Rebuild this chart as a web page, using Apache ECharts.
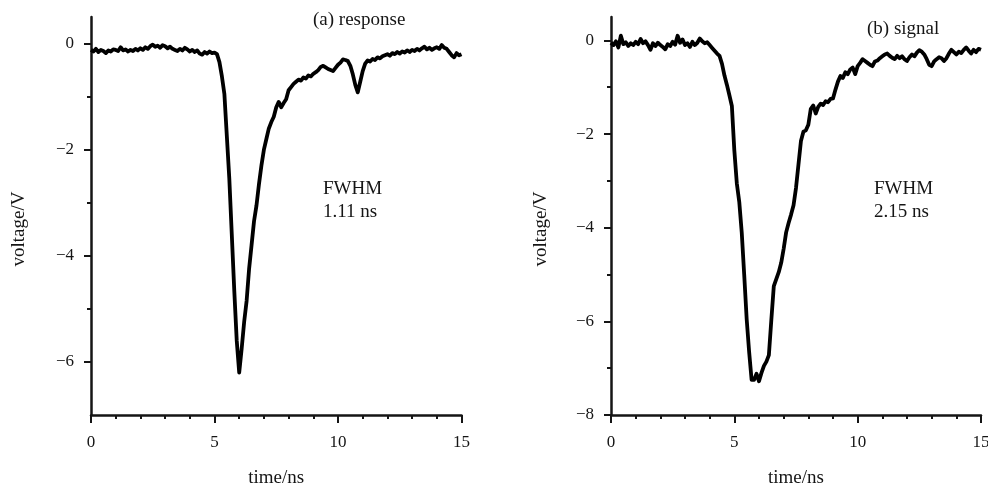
<!DOCTYPE html>
<html>
<head>
<meta charset="utf-8">
<script src="https://cdn.jsdelivr.net/npm/echarts@6/dist/echarts.min.js"></script>
<style>
html,body{margin:0;padding:0;background:#fff;}
#chart{width:988px;height:487px;}
</style>
</head>
<body>
<div id="chart"></div>
<script>
// sampling times (ns), shared by both traces
const time = [
 0.0,0.1,0.2,0.3,0.4,0.5,0.6,0.7,0.8,0.9,
 1.0,1.1,1.2,1.3,1.4,1.5,1.6,1.7,1.8,1.9,
 2.0,2.1,2.2,2.3,2.4,2.5,2.6,2.7,2.8,2.9,
 3.0,3.1,3.2,3.3,3.4,3.5,3.6,3.7,3.8,3.9,
 4.0,4.1,4.2,4.3,4.4,4.5,4.6,4.7,4.8,4.9,
 5.0,5.1,5.2,5.3,5.4,5.5,5.6,5.7,5.8,5.9,
 6.0,6.1,6.2,6.3,6.4,6.5,6.6,6.7,6.8,6.9,
 7.0,7.1,7.2,7.3,7.4,7.5,7.6,7.7,7.8,7.9,
 8.0,8.1,8.2,8.3,8.4,8.5,8.6,8.7,8.8,8.9,
 9.0,9.1,9.2,9.3,9.4,9.5,9.6,9.7,9.8,9.9,
 10.0,10.1,10.2,10.3,10.4,10.5,10.6,10.7,10.8,10.9,
 11.0,11.1,11.2,11.3,11.4,11.5,11.6,11.7,11.8,11.9,
 12.0,12.1,12.2,12.3,12.4,12.5,12.6,12.7,12.8,12.9,
 13.0,13.1,13.2,13.3,13.4,13.5,13.6,13.7,13.8,13.9,
 14.0,14.1,14.2,14.3,14.4,14.5,14.6,14.7,14.8,14.9,
 15.0
];

// (a) response voltage (V)
const responseV = [
 -0.12,-0.15,-0.10,-0.16,-0.12,-0.14,-0.18,-0.13,-0.15,-0.11,
 -0.12,-0.14,-0.07,-0.13,-0.11,-0.15,-0.12,-0.14,-0.10,-0.13,
 -0.09,-0.12,-0.07,-0.10,-0.05,-0.02,-0.06,-0.04,-0.08,-0.03,
 -0.05,-0.09,-0.06,-0.10,-0.12,-0.14,-0.10,-0.13,-0.08,-0.11,
 -0.15,-0.12,-0.16,-0.13,-0.19,-0.21,-0.16,-0.19,-0.15,-0.18,
 -0.17,-0.20,-0.35,-0.62,-0.95,-1.75,-2.55,-3.60,-4.65,-5.60,
 -6.20,-5.75,-5.25,-4.85,-4.25,-3.80,-3.35,-3.05,-2.65,-2.30,
 -2.00,-1.80,-1.60,-1.48,-1.38,-1.20,-1.10,-1.20,-1.12,-1.05,
 -0.88,-0.82,-0.76,-0.72,-0.68,-0.70,-0.64,-0.66,-0.60,-0.62,
 -0.57,-0.54,-0.50,-0.44,-0.42,-0.45,-0.48,-0.50,-0.52,-0.46,
 -0.40,-0.36,-0.30,-0.31,-0.33,-0.42,-0.58,-0.78,-0.92,-0.72,
 -0.52,-0.38,-0.32,-0.34,-0.29,-0.31,-0.26,-0.28,-0.24,-0.22,
 -0.20,-0.23,-0.18,-0.20,-0.16,-0.19,-0.15,-0.17,-0.13,-0.16,
 -0.12,-0.14,-0.10,-0.13,-0.09,-0.06,-0.11,-0.08,-0.12,-0.09,
 -0.07,-0.10,-0.03,-0.08,-0.10,-0.16,-0.22,-0.26,-0.18,-0.22,
 -0.20
];

// (b) signal voltage (V)
const signalV = [
 -0.05,-0.10,-0.02,-0.15,0.10,-0.08,-0.04,-0.12,-0.06,-0.10,
 -0.03,-0.08,0.03,-0.06,-0.02,-0.10,-0.20,-0.06,-0.12,-0.05,
 -0.10,-0.14,-0.19,-0.08,-0.12,-0.03,-0.09,0.10,-0.05,0.02,
 -0.10,-0.06,-0.14,-0.03,-0.10,-0.05,0.04,-0.02,-0.06,-0.04,
 -0.10,-0.16,-0.22,-0.28,-0.33,-0.50,-0.75,-0.95,-1.17,-1.40,
 -2.35,-3.05,-3.45,-4.10,-5.00,-5.95,-6.65,-7.25,-7.25,-7.12,
 -7.28,-7.10,-6.95,-6.86,-6.72,-5.97,-5.25,-5.10,-4.95,-4.75,
 -4.45,-4.10,-3.90,-3.72,-3.52,-3.15,-2.65,-2.15,-1.95,-1.92,
 -1.80,-1.46,-1.39,-1.56,-1.42,-1.35,-1.38,-1.30,-1.32,-1.25,
 -1.24,-1.05,-0.88,-0.76,-0.80,-0.68,-0.72,-0.62,-0.58,-0.72,
 -0.55,-0.48,-0.40,-0.44,-0.48,-0.52,-0.55,-0.45,-0.43,-0.38,
 -0.34,-0.30,-0.28,-0.33,-0.37,-0.40,-0.33,-0.38,-0.34,-0.40,
 -0.44,-0.36,-0.30,-0.34,-0.26,-0.21,-0.24,-0.30,-0.40,-0.52,
 -0.55,-0.45,-0.40,-0.36,-0.38,-0.44,-0.38,-0.28,-0.20,-0.25,
 -0.30,-0.24,-0.27,-0.20,-0.15,-0.22,-0.28,-0.20,-0.25,-0.18,
 -0.20
];

// tick labels
const xTicks = [0, 5, 10, 15];
const yTicksA = [0, -2, -4, -6];
const yMinorA = [-1, -3, -5];
const yTicksB = [0, -2, -4, -6, -8];
const yMinorB = [-1, -3, -5, -7];

const panelTitles = ['(a) response', '(b) signal'];
const fwhmText = ['FWHM\n1.11 ns', 'FWHM\n2.15 ns'];
const xName = 'time/ns';
const yName = 'voltage/V';

const FONT = '"Liberation Serif", "Times New Roman", serif';
const INK = '#151515';

function pairs(ts, vs) { return ts.map((t, i) => [t, vs[i]]); }

function xAxisFor(gi) {
  return {
    type: 'value', gridIndex: gi, min: 0, max: 15, interval: 5,
    name: xName, nameLocation: 'middle', nameGap: 54,
    nameTextStyle: { fontFamily: FONT, fontSize: 19, color: INK },
    axisLine: { onZero: false, lineStyle: { color: INK, width: 2.5 } },
    axisTick: { length: 8, customValues: xTicks, lineStyle: { color: INK, width: 2 } },
    minorTick: { show: true, splitNumber: 5, length: 4, lineStyle: { color: INK, width: 2 } },
    axisLabel: { customValues: xTicks, fontFamily: FONT, fontSize: 17, color: INK, margin: 19 },
    splitLine: { show: false }
  };
}

function yMain(gi, min, ticks) {
  return {
    type: 'value', gridIndex: gi, min: min, max: 0.5, position: 'left',
    axisLine: { show: true, onZero: false, lineStyle: { color: INK, width: 2.5 } },
    axisTick: { show: true, length: 7, customValues: ticks, lineStyle: { color: INK, width: 2 } },
    axisLabel: { show: true, customValues: ticks, fontFamily: FONT, fontSize: 17, color: INK, margin: 17,
      formatter: v => (v < 0 ? '\u2212' + Math.abs(v) : String(v)) },
    splitLine: { show: false }
  };
}

function yMinor(gi, min, ticks) {
  return {
    type: 'value', gridIndex: gi, min: min, max: 0.5, position: 'left',
    axisLine: { show: false, onZero: false },
    axisTick: { show: true, length: 4, customValues: ticks, lineStyle: { color: INK, width: 2 } },
    axisLabel: { show: false, customValues: ticks },
    splitLine: { show: false }
  };
}

const chart = echarts.init(document.getElementById('chart'), null, { renderer: 'canvas' });
chart.setOption({
  backgroundColor: '#ffffff',
  animation: false,
  grid: [
    { left: 91, top: 17, width: 370.5, height: 398, outerBoundsMode: 'none', containLabel: false },
    { left: 611, top: 17, width: 370, height: 398, outerBoundsMode: 'none', containLabel: false }
  ],
  xAxis: [xAxisFor(0), xAxisFor(1)],
  yAxis: [yMain(0, -7, yTicksA), yMinor(0, -7, yMinorA), yMain(1, -8, yTicksB), yMinor(1, -8, yMinorB)],
  series: [
    { type: 'line', xAxisIndex: 0, yAxisIndex: 0, data: pairs(time, responseV), showSymbol: false,
      lineStyle: { color: '#000', width: 3.8, join: 'round' } },
    { type: 'line', xAxisIndex: 1, yAxisIndex: 2, data: pairs(time, signalV), showSymbol: false,
      lineStyle: { color: '#000', width: 3.8, join: 'round' } }
  ],
  graphic: [
    { type: 'text', x: 19, y: 229, rotation: Math.PI / 2, style: { text: yName, font: '19px ' + FONT, fill: INK, align: 'center', verticalAlign: 'middle' } },
    { type: 'text', x: 541, y: 229, rotation: Math.PI / 2, style: { text: yName, font: '19px ' + FONT, fill: INK, align: 'center', verticalAlign: 'middle' } },
    { type: 'text', x: 313, y: 20, style: { text: panelTitles[0], font: '19px ' + FONT, fill: INK, align: 'left', verticalAlign: 'middle' } },
    { type: 'text', x: 867, y: 29, style: { text: panelTitles[1], font: '19px ' + FONT, fill: INK, align: 'left', verticalAlign: 'middle' } },
    { type: 'text', x: 323, y: 178, style: { text: fwhmText[0], font: '19px ' + FONT, fill: INK, lineHeight: 23, align: 'left', verticalAlign: 'top' } },
    { type: 'text', x: 874, y: 178, style: { text: fwhmText[1], font: '19px ' + FONT, fill: INK, lineHeight: 23, align: 'left', verticalAlign: 'top' } }
  ]
});
</script>
</body>
</html>
